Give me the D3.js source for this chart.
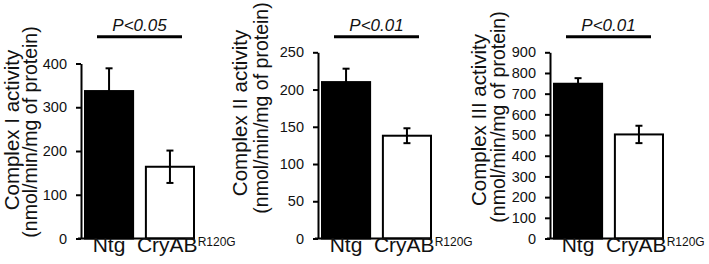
<!DOCTYPE html>
<html>
<head>
<meta charset="utf-8">
<script src="https://cdn.jsdelivr.net/npm/d3@7"></script>
<style>
  body { margin: 0; background: #fff; }
  svg { display: block; font-family: "Liberation Sans", Arial, sans-serif; }
</style>
</head>
<body>
<svg id="chart" width="709" height="264"></svg>
<script>
// data
var groups = ['Ntg', 'CryAB'];
var panelTitles = ['Complex I activity', 'Complex II activity', 'Complex III activity'];
var unitLabel = '(nmol/min/mg of protein)';
var means = [[337, 164], [210, 138], [748, 503]];
var errs = [[52, 37], [18, 10], [27, 42]];
var yMax = [400, 250, 900];
var yStep = [100, 50, 100];
var pLabels = ['P<0.05', 'P<0.01', 'P<0.01'];

// layout for each panel
var axisX = [81, 318, 550],
    yTop = [63.5, 52.3, 52.3],
    yBottom = 238.5,
    titleX = [12, 240, 479],
    unitX = [30, 261, 498.5],
    titleCy = [130, 113, 120],
    unitCy = [132, 108, 117];

var svg = d3.select('#chart');

for (let p = 0; p < 3; p++) {
  var g = svg.append('g');

  var yScale = d3.scaleLinear()
    .domain([0, yMax[p]])
    .range([yBottom, yTop[p]]);

  var xScale = d3.scaleBand()
    .domain(groups)
    .range([axisX[p] + 4, axisX[p] + 113])
    .paddingInner(0.21);

  var bw = xScale.bandwidth();

  // bars
  groups.forEach(function (grp, i) {
    g.append('rect')
      .attr('x', xScale(grp))
      .attr('y', yScale(means[p][i]))
      .attr('width', bw)
      .attr('height', yBottom - yScale(means[p][i]))
      .attr('fill', i === 0 ? '#000' : '#fff')
      .attr('stroke', '#000')
      .attr('stroke-width', 2);
  });

  // error bars (filled bar only shows the upper half)
  groups.forEach(function (grp, i) {
    var cx = xScale(grp) + bw / 2;
    var hi = yScale(means[p][i] + errs[p][i]),
        lo = i === 0 ? yScale(means[p][i]) : yScale(means[p][i] - errs[p][i]);
    g.append('line')
      .attr('x1', cx).attr('x2', cx)
      .attr('y1', hi).attr('y2', lo)
      .attr('stroke', '#000').attr('stroke-width', 2);
    g.append('line')
      .attr('x1', cx - 3.5).attr('x2', cx + 3.5)
      .attr('y1', hi).attr('y2', hi)
      .attr('stroke', '#000').attr('stroke-width', 2);
    if (i === 1) {
      g.append('line')
        .attr('x1', cx - 3.5).attr('x2', cx + 3.5)
        .attr('y1', lo).attr('y2', lo)
        .attr('stroke', '#000').attr('stroke-width', 2);
    }
  });

  // y axis
  var yAxis = d3.axisLeft(yScale)
    .tickValues(d3.range(0, yMax[p] + 1, yStep[p]))
    .tickSize(5)
    .tickSizeOuter(0)
    .tickPadding(9);

  var ax = g.append('g')
    .attr('transform', 'translate(' + axisX[p] + ',0)')
    .call(yAxis);
  ax.select('.domain').attr('stroke', '#000').attr('stroke-width', 2);
  ax.selectAll('.tick line').attr('stroke', '#000').attr('stroke-width', 2);
  ax.selectAll('.tick text')
    .attr('fill', '#111')
    .style('font-size', '14.5px')
    .style('font-family', '"Liberation Sans", Arial, sans-serif');

  // baseline
  g.append('line')
    .attr('x1', axisX[p] - 3).attr('x2', axisX[p] + 112)
    .attr('y1', yBottom).attr('y2', yBottom)
    .attr('stroke', '#000').attr('stroke-width', 2);

  // category labels
  g.append('text')
    .attr('x', xScale('Ntg') + bw / 2)
    .attr('y', 252)
    .attr('text-anchor', 'middle')
    .style('font-size', '21px')
    .attr('fill', '#111')
    .text('Ntg');

  var cry = g.append('text')
    .attr('x', xScale('CryAB') + bw / 2 - 33)
    .attr('y', 252)
    .style('font-size', '21px')
    .attr('fill', '#111');
  cry.append('tspan').text('CryAB');
  cry.append('tspan')
    .attr('dy', -6.5)
    .style('font-size', '12px')
    .text('R120G');

  // significance line
  var x1 = xScale('Ntg') + 12,
      x2 = xScale('CryAB') + bw - 12;
  g.append('line')
    .attr('x1', x1).attr('x2', x2)
    .attr('y1', 36.7).attr('y2', 36.7)
    .attr('stroke', '#000').attr('stroke-width', 3);
  g.append('text')
    .attr('x', (x1 + x2) / 2)
    .attr('y', 31)
    .attr('text-anchor', 'middle')
    .style('font-size', '17px')
    .style('font-style', 'italic')
    .attr('fill', '#111')
    .text(pLabels[p]);

  // y labels
  g.append('text')
    .attr('transform', 'translate(' + titleX[p] + ',' + titleCy[p] + ') rotate(-90)')
    .attr('text-anchor', 'middle')
    .attr('dy', '0.35em')
    .style('font-size', '20.5px')
    .attr('fill', '#111')
    .text(panelTitles[p]);
  g.append('text')
    .attr('transform', 'translate(' + unitX[p] + ',' + unitCy[p] + ') rotate(-90)')
    .attr('text-anchor', 'middle')
    .attr('dy', '0.35em')
    .style('font-size', '19.5px')
    .attr('fill', '#111')
    .text(unitLabel);
}
</script>
</body>
</html>
